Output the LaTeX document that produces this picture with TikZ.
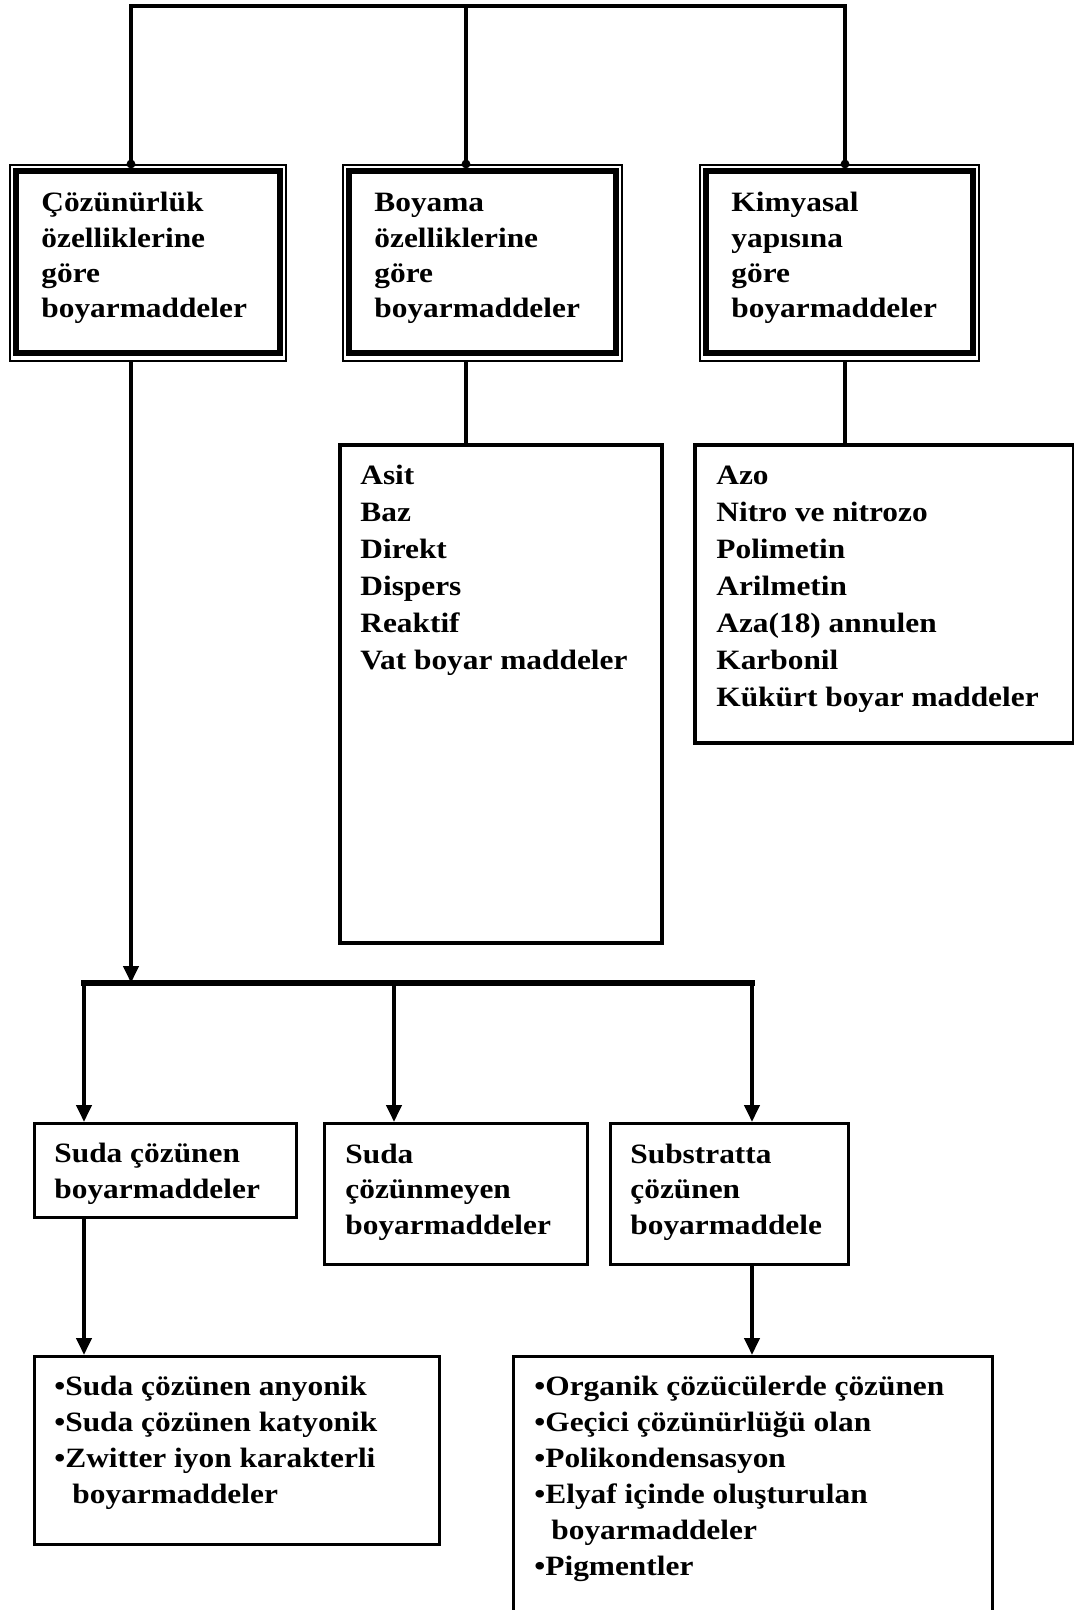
\documentclass[tikz,border=0pt]{standalone}
\usepackage{fontspec}
\setmainfont[FakeStretch=1.12]{Liberation Serif}
\usetikzlibrary{arrows.meta}

\tikzset{
  conn/.style={line width=2pt},
  arr/.style={conn, -{Triangle[length=8.5pt,width=7.5pt]}},
  framebox/.style={draw, anchor=north west, inner sep=0pt},
  txt/.style={anchor=base west, align=left, inner sep=0pt,
    font=\fontsize{14}{17.7}\selectfont\bfseries},
}

\begin{document}
\begin{tikzpicture}[x=0.5pt, y=-0.5pt]
  \def\u{0.5pt}
  \useasboundingbox (0,0) rectangle (1074,1610);

  % top row: thin outer frame, thick inner frame (text placed at last baseline)
  \foreach \n/\x/\w/\t in {c1/9/276/{Çözünürlük\\özelliklerine\\göre\\boyarmaddeler},
                           c2/342/279/{Boyama\\özelliklerine\\göre\\boyarmaddeler},
                           c3/699/279/{Kimyasal\\yapısına\\göre\\boyarmaddeler}} {
    \node[framebox, line width=1pt, minimum width=\w*\u, minimum height=196*\u] (\n) at (\x,164) {};
    \draw[line width=3pt] ([shift={(7,7)}]\n.north west) rectangle ([shift={(-7,-9)}]\n.south east);
    \node[txt] (\n t) at ([shift={(32,154)}]\n.north west) {\t};
  }

  \coordinate (h1) at (131,6);
  \coordinate (h2) at (466,6);
  \coordinate (h3) at (845,6);
  \draw[conn] (h1 |- c1.north) -- (h1) -- (h3) -- (h3 |- c3.north);
  \draw[conn] (h2) -- (h2 |- c2.north);
  \foreach \h/\c in {h1/c1, h2/c2, h3/c3}
    \fill (\h |- \c.north) circle[radius=2.2pt];

  % lists
  \node[framebox, line width=2pt, minimum width=322*\u, minimum height=498*\u] (l2) at (338,443) {};
  \node[framebox, line width=2pt, minimum width=379*\u, minimum height=298*\u] (l3) at (693,443) {};
  \node[txt, font=\fontsize{14}{18.5}\selectfont\bfseries] (l2t) at (360,669)
    {Asit\\Baz\\Direkt\\Dispers\\Reaktif\\Vat boyar maddeler};
  \node[txt, font=\fontsize{14}{18.5}\selectfont\bfseries] (l3t) at (716,706)
    {Azo\\Nitro ve nitrozo\\Polimetin\\Arilmetin\\Aza(18) annulen\\Karbonil\\Kükürt boyar maddeler};
  \draw[conn] (c2.south -| h2) -- (l2.north -| h2);
  \draw[conn] (c3.south -| h3) -- (l3.north -| h3);

  % bus
  \coordinate (busl) at (84,983);
  \coordinate (busm) at (394,983);
  \coordinate (busr) at (752,983);
  \draw[line width=2.6pt, line cap=rect] (busl) -- (busr);
  \draw[arr] (c1.south -| h1) -- (h1 |- busl);

  % second level
  \node[framebox, line width=1.6pt, minimum width=262*\u, minimum height=94*\u] (s1) at (33,1122) {};
  \node[framebox, line width=1.6pt, minimum width=263*\u, minimum height=141*\u] (s2) at (323,1122) {};
  \node[framebox, line width=1.6pt, minimum width=238*\u, minimum height=141*\u] (s3) at (609,1122) {};
  \node[txt] (s1t) at (54,1198) {Suda çözünen\\boyarmaddeler};
  \node[txt] (s2t) at (345,1234) {Suda\\çözünmeyen\\boyarmaddeler};
  \node[txt] (s3t) at (630,1234) {Substratta\\çözünen\\boyarmaddele};
  \draw[arr] (busl) -- (busl |- s1.north);
  \draw[arr] (busm) -- (busm |- s2.north);
  \draw[arr] (busr) -- (busr |- s3.north);

  % third level
  \node[framebox, line width=1.6pt, minimum width=405*\u, minimum height=188*\u] (b1) at (33,1355) {};
  \node[framebox, line width=1.6pt, minimum width=479*\u, minimum height=300*\u] (b2) at (512,1355) {};
  \node[txt, font=\fontsize{14}{18}\selectfont\bfseries] (b1t) at (54,1503)
    {•Suda çözünen anyonik\\•Suda çözünen katyonik\\•Zwitter iyon karakterli\\\hspace{9pt}boyarmaddeler};
  \node[txt, font=\fontsize{14}{18}\selectfont\bfseries] (b2t) at (534,1575)
    {•Organik çözücülerde çözünen\\•Geçici çözünürlüğü olan\\•Polikondensasyon\\•Elyaf içinde oluşturulan\\\hspace{8.5pt}boyarmaddeler\\•Pigmentler};
  \draw[arr] (s1.south -| busl) -- (b1.north -| busl);
  \draw[arr] (s3.south -| busr) -- (b2.north -| busr);
\end{tikzpicture}
\end{document}
